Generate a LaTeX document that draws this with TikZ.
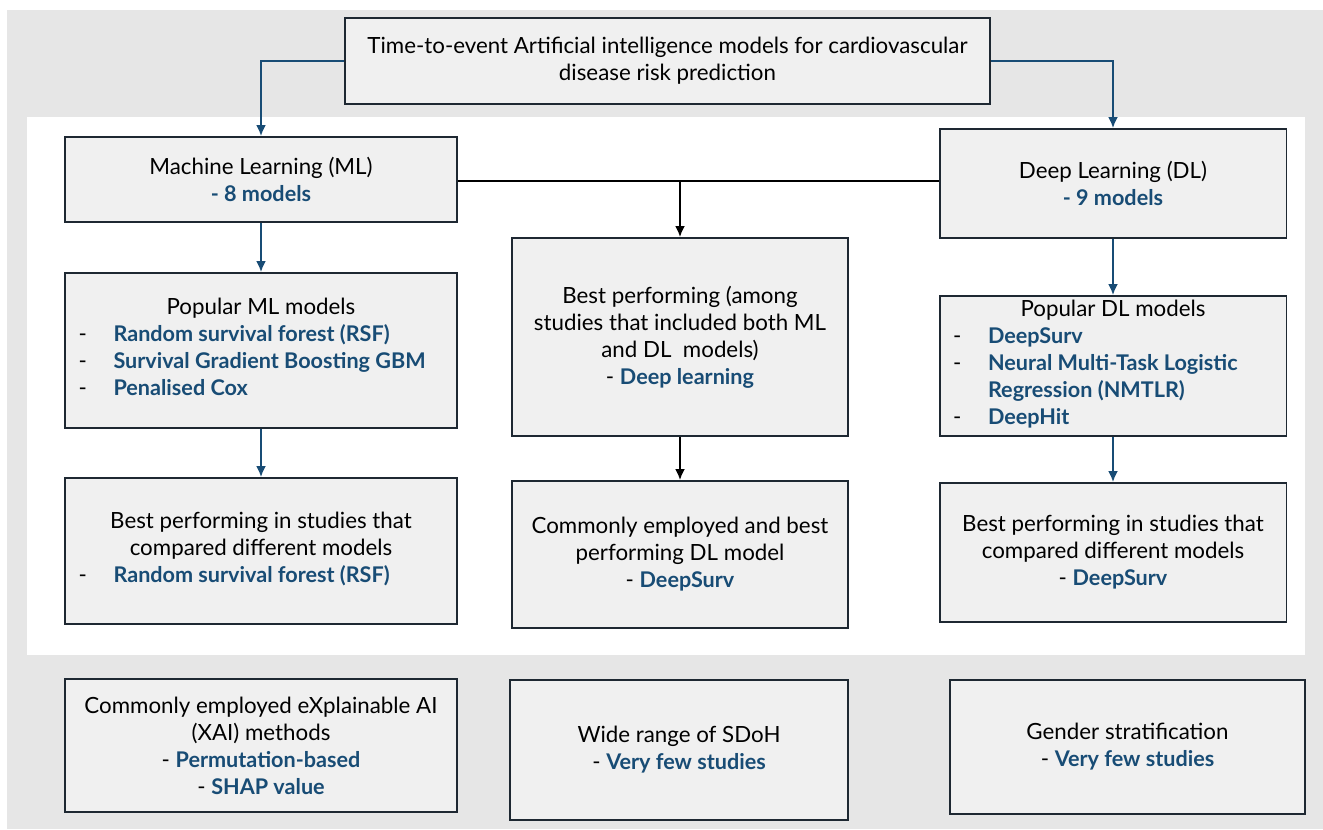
\documentclass[tikz,border=0pt]{standalone}
\usepackage{fontspec}
\setmainfont{Lato}
\usepackage{xcolor}
\usepackage{tikz}
\usetikzlibrary{arrows.meta, positioning}
\definecolor{azul}{RGB}{24,76,117}
\definecolor{borda}{RGB}{30,40,50}
\definecolor{caixafundo}{RGB}{240,240,240}
\definecolor{painel}{RGB}{230,230,230}
\newcommand{\blu}[1]{\textcolor{azul}{\textbf{\fontsize{12.3}{15.4}\selectfont #1}}}

\begin{document}
\begin{tikzpicture}[x=0.02cm, y=-0.02cm,
  caixa/.style={draw=borda, fill=caixafundo, line width=1.1pt, align=center,
    inner sep=2pt, font=\fontsize{12.7}{15.4}\selectfont},
  seta/.style={-{Latex[length=2.2mm, width=2mm]}, line width=1.1pt, draw=azul},
  setap/.style={-{Latex[length=2.2mm, width=2mm]}, line width=1.1pt, draw=black}]
  % fundo
  \fill[white] (0,0) rectangle (1323,829);
  \fill[painel] (7,10) rectangle (1323,829);
  \fill[white] (27,117) rectangle (1305,655);
  % topo
  \node[caixa, minimum width=12.9cm, minimum height=1.72cm] (titulo) at (667.5,61)
    {Time-to-event Artificial intelligence models for cardiovascular\\ disease risk prediction};
  \node[caixa, minimum width=7.84cm, minimum height=1.7cm] (ml) at (261,179.5)
    {Machine Learning (ML)\\ \blu{- 8 models}};
  \node[caixa, minimum width=6.94cm, minimum height=2.18cm] (dl) at (1113,183.5)
    {Deep Learning (DL)\\ \blu{- 9 models}};
  % coluna ML
  \node[caixa, minimum width=7.84cm, minimum height=3.1cm] (popml) at (261,350.5)
    {Popular ML models\\
     \begin{tabular}[t]{@{}p{0.7cm}@{}p{6.6cm}@{}}
       - & \blu{Random survival forest (RSF)}\\
       - & \blu{Survival Gradient Boosting GBM}\\
       - & \blu{Penalised Cox}
     \end{tabular}};
  \node[caixa, minimum width=7.84cm, minimum height=2.92cm] (bestml) at (261,551)
    {Best performing in studies that\\ compared different models\\
     \begin{tabular}[t]{@{}p{0.7cm}@{}p{6.6cm}@{}}
       - & \blu{Random survival forest (RSF)}
     \end{tabular}};
  % coluna central
  \node[caixa, minimum width=6.72cm, minimum height=3.96cm] (melhor) at (680,337)
    {Best performing (among\\ studies that included both ML\\ and DL\ \ models)\\ - \blu{Deep learning}};
  \node[caixa, minimum width=6.72cm, minimum height=2.94cm] (comum) at (680,554.5)
    {Commonly employed and best\\ performing DL model\\ - \blu{DeepSurv}};
  % coluna DL
  \node[caixa, minimum width=6.94cm, minimum height=2.8cm] (popdl) at (1113,366)
    {Popular DL models\\
     \begin{tabular}[t]{@{}p{0.7cm}@{}p{5.7cm}@{}}
       - & \blu{DeepSurv}\\
       - & \blu{Neural Multi-Task Logistic}\\
         & \blu{Regression (NMTLR)}\\
       - & \blu{DeepHit}
     \end{tabular}};
  \node[caixa, minimum width=6.94cm, minimum height=2.78cm] (bestdl) at (1113,552.5)
    {Best performing in studies that\\ compared different models\\ - \blu{DeepSurv}};
  % linha de baixo
  \node[caixa, minimum width=7.84cm, minimum height=2.66cm] (xai) at (261,745.5)
    {Commonly employed eXplainable AI\\ (XAI) methods\\ - \blu{Permutation-based}\\ - \blu{SHAP value}};
  \node[caixa, minimum width=6.76cm, minimum height=2.8cm] (sdoh) at (679,750)
    {Wide range of SDoH\\ - \blu{Very few studies}};
  \node[caixa, minimum width=7.1cm, minimum height=2.68cm] (genero) at (1127.5,747)
    {Gender stratification\\ - \blu{Very few studies}};
  % ligacoes
  \draw[seta] (titulo.west) -| (ml.north);
  \draw[seta] (titulo.east) -| (dl.north);
  \coordinate (juncao) at (melhor.north |- 0,181);
  \draw[line width=1.1pt] (ml.east |- juncao) -- (dl.west |- juncao);
  \draw[setap] (juncao) -- (melhor.north);
  \draw[seta] (ml) -- (popml);
  \draw[seta] (popml) -- (bestml);
  \draw[seta] (dl.south) -- (popdl.north);
  \draw[seta] (popdl) -- (bestdl);
  \draw[setap] (melhor) -- (comum);
\end{tikzpicture}
\end{document}
